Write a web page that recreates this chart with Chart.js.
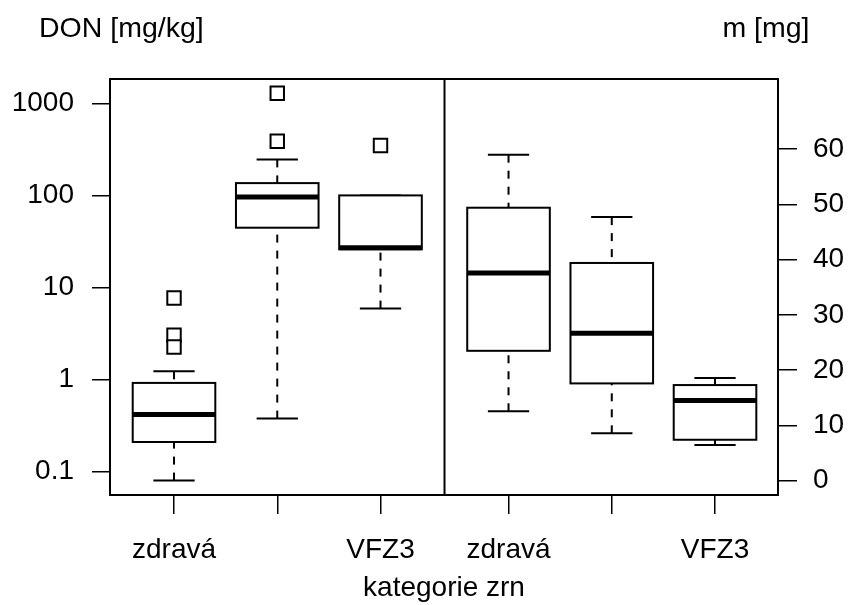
<!DOCTYPE html>
<html>
<head>
<meta charset="utf-8">
<script src="https://cdn.jsdelivr.net/npm/chart.js@4.4.1/dist/chart.umd.min.js"></script>
<style>
  html, body { margin: 0; background: #fff; }
  #wrap { width: 849px; height: 605px; }
</style>
</head>
<body>
<div id="wrap"><canvas id="c"></canvas></div>
<script>
// kategorie zrn (prostřední popisek R vynechal)
const categories = ['zdravá', '', 'VFZ3'];

// DON [mg/kg] – levý panel, log osa
const donMin = [0.08, 0.377, 5.9];
const donQ1  = [0.21, 44.6, 26];
const donMed = [0.417, 95.8, 27];
const donQ3  = [0.92, 136, 100];
const donMax = [1.23, 246, 100];
const donOut = [[7.7, 3.03, 2.26], [1284, 388], [349]];

// m [mg] – pravý panel
const massMin = [12.55, 8.57, 6.46];
const massQ1  = [23.5, 17.6, 7.4];
const massMed = [37.6, 26.7, 14.5];
const massQ3  = [49.4, 39.4, 17.3];
const massMax = [59.0, 47.7, 18.6];

const donTicks  = [0.1, 1, 10, 100, 1000];
const massTicks = [0, 10, 20, 30, 40, 50, 60];

// pozice boxů na ose x (pravý panel posunutý o šířku panelu)
const panelShift = 3.24;
const leftPos  = categories.map((_, i) => i + 1);
const rightPos = categories.map((_, i) => i + 1 + panelShift);
const xTicks   = leftPos.concat(rightPos);
const xLabels  = categories.concat(categories);

const FONT = '"Liberation Sans", Arial, sans-serif';
Chart.defaults.font.family = FONT;
Chart.defaults.font.size = 28;
Chart.defaults.color = '#000';

function line(ctx, x1, y1, x2, y2) {
  ctx.beginPath(); ctx.moveTo(x1, y1); ctx.lineTo(x2, y2); ctx.stroke();
}

function drawBox(ctx, xs, ys, pos, lo, q1, med, q3, hi) {
  const cx = xs.getPixelForValue(pos);
  const hw = xs.getPixelForValue(pos + 0.4) - cx;
  const pLo = ys.getPixelForValue(lo), pQ1 = ys.getPixelForValue(q1);
  const pMed = ys.getPixelForValue(med);
  const pQ3 = ys.getPixelForValue(q3), pHi = ys.getPixelForValue(hi);
  ctx.save();
  ctx.strokeStyle = '#000';
  ctx.lineWidth = 2;
  ctx.lineCap = 'butt';
  ctx.setLineDash([8, 8]);
  line(ctx, cx, pLo, cx, pQ1);
  line(ctx, cx, pHi, cx, pQ3);
  ctx.setLineDash([]);
  line(ctx, cx - hw / 2, pLo, cx + hw / 2, pLo);
  line(ctx, cx - hw / 2, pHi, cx + hw / 2, pHi);
  ctx.fillStyle = '#fff';
  ctx.fillRect(cx - hw, pQ3, 2 * hw, pQ1 - pQ3);
  ctx.strokeRect(cx - hw, pQ3, 2 * hw, pQ1 - pQ3);
  ctx.lineWidth = 5;
  line(ctx, cx - hw, pMed, cx + hw, pMed);
  ctx.restore();
}

const boxPlugin = {
  id: 'boxes',
  beforeDatasetsDraw(chart) {
    const { ctx, scales: { x, y, y2 } } = chart;
    leftPos.forEach((p, i) => drawBox(ctx, x, y, p, donMin[i], donQ1[i], donMed[i], donQ3[i], donMax[i]));
    rightPos.forEach((p, i) => drawBox(ctx, x, y2, p, massMin[i], massQ1[i], massMed[i], massQ3[i], massMax[i]));
  },
  afterDraw(chart) {
    const { ctx, chartArea: a, scales: { x } } = chart;
    ctx.save();
    ctx.strokeStyle = '#000';
    ctx.lineWidth = 2;
    ctx.strokeRect(a.left, a.top, a.right - a.left, a.bottom - a.top);
    const div = x.getPixelForValue((leftPos[2] + rightPos[0]) / 2);
    line(ctx, div, a.top, div, a.bottom);
    ctx.fillStyle = '#000';
    ctx.font = '28.5px ' + FONT;
    ctx.textBaseline = 'middle';
    ctx.textAlign = 'left';
    ctx.fillText('DON [mg/kg]', 39, 29.5);
    ctx.textAlign = 'right';
    ctx.fillText('m [mg]', 809.5, 29.5);
    ctx.restore();
  }
};

const outliers = [];
donOut.forEach((vals, i) => vals.forEach(v => outliers.push({ x: leftPos[i], y: v })));

const tickGrid = { drawOnChartArea: false, drawTicks: true, tickLength: 18, color: '#000', lineWidth: 1.5 };

new Chart(document.getElementById('c'), {
  type: 'scatter',
  data: {
    datasets: [{
      label: 'DON odlehlé',
      data: outliers,
      yAxisID: 'y',
      pointStyle: 'rect',
      pointRadius: 9.5,
      borderColor: '#000',
      backgroundColor: '#fff',
      borderWidth: 2,
    }],
  },
  options: {
    responsive: true,
    maintainAspectRatio: false,
    animation: false,
    layout: { padding: { top: 79, left: 0, right: 0, bottom: 0 } },
    plugins: { legend: { display: false }, tooltip: { enabled: false } },
    scales: {
      x: {
        type: 'linear', min: 0.38, max: 6.85,
        afterBuildTicks: s => { s.ticks = xTicks.map(v => ({ value: v })); },
        afterFit: s => { s.height = 110; },
        grid: { ...tickGrid, tickLength: 19 },
        border: { display: false },
        ticks: { autoSkip: false, maxRotation: 0, padding: 19, callback: (v, i) => xLabels[i] },
        title: { display: true, text: 'kategorie zrn', font: { size: 28 }, padding: { top: 0, bottom: 0 } },
      },
      y: {
        type: 'logarithmic', position: 'left', min: 0.0558, max: 1837,
        afterBuildTicks: s => { s.ticks = donTicks.map(v => ({ value: v })); },
        afterFit: s => { s.width = 110; },
        grid: tickGrid,
        border: { display: false },
        ticks: { padding: 18, callback: v => String(v) },
      },
      y2: {
        type: 'linear', position: 'right', min: -2.6, max: 72.7,
        afterBuildTicks: s => { s.ticks = massTicks.map(v => ({ value: v })); },
        afterFit: s => { s.width = 71; },
        grid: { ...tickGrid, tickLength: 19 },
        border: { display: false },
        ticks: { padding: 16, callback: v => String(v) },
      },
    },
  },
  plugins: [boxPlugin],
});
</script>
</body>
</html>
